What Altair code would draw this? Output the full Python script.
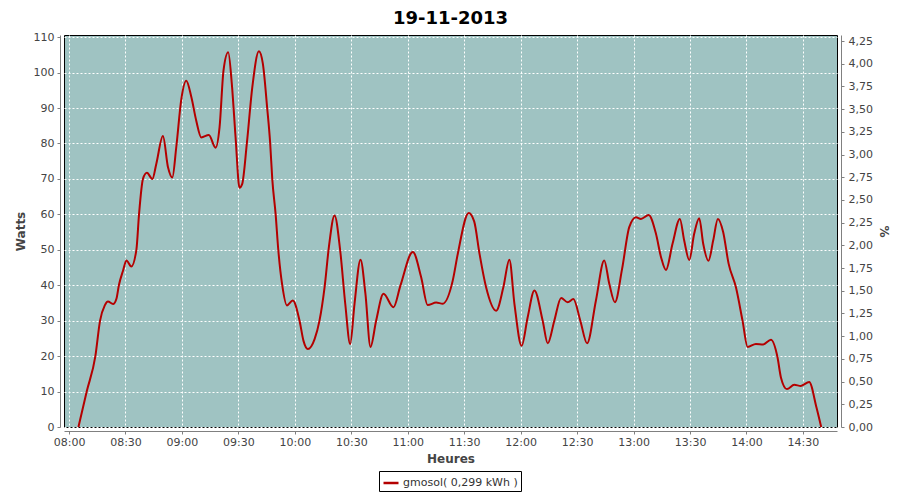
import altair as alt
import pandas as pd

# ---- data ----
chart_title = "19-11-2013"
series_name = "gmosol( 0,299 kWh )"

# minutes after 08:00
minutes = [5.0, 9.4, 14.0, 16.5, 19.0, 20.7, 23.4, 25.2, 26.5, 28.7, 30.5, 33.1, 35.8, 37.2,
           39.3, 41.4, 44.3, 46.4, 49.9, 52.6, 54.9, 57.0, 59.7, 62.3, 65.0, 67.6, 70.3,
           74.3, 77.9, 80.0, 82.1, 84.6, 86.5, 88.5, 90.6, 92.0, 94.5, 97.4, 100.9, 103.0,
           105.3, 106.9, 108.0, 109.8, 111.2, 113.3, 115.8, 118.9, 122.5, 124.6, 126.9,
           130.5, 133.1, 135.8, 138.1, 141.1, 144.1, 146.8, 149.4, 151.7, 154.9, 157.5,
           160.2, 163.2, 167.1, 172.4, 176.1, 182.7, 187.1, 190.6, 195.1, 198.6, 203.9,
           206.6, 212.4, 215.3, 218.1, 221.6, 227.0, 230.8, 234.0, 236.7, 240.5, 243.7,
           247.3, 251.7, 254.4, 257.9, 261.5, 265.0, 268.0, 271.7, 275.3, 280.0, 284.4,
           287.1, 290.1, 293.9, 297.7, 301.3, 303.9, 308.0, 311.9, 314.6, 317.2, 320.7,
           324.6, 326.9, 329.6, 332.2, 334.9, 337.0, 339.8, 342.3, 344.8, 347.6, 350.5,
           354.4, 357.9, 360.6, 365.0, 368.9, 373.0, 376.5, 378.3, 381.5, 385.4, 388.9,
           393.3, 397.2, 399.7]
watts = [0.0, 10.0, 20.0, 30.0, 34.3, 35.4, 34.7, 36.2, 40.0, 44.1, 47.0, 45.3, 50.0, 60.0,
         70.0, 71.7, 70.0, 74.3, 82.1, 73.3, 70.4, 79.0, 92.6, 97.7, 93.1, 86.5, 81.7,
         82.4, 78.8, 84.6, 100.6, 105.7, 96.9, 81.8, 67.5, 68.5, 80.0, 95.9, 106.0, 102.5,
         90.0, 80.0, 70.0, 60.0, 50.0, 40.0, 34.3, 35.7, 30.0, 24.3, 22.0,
         24.8, 30.0, 39.4, 50.8, 59.7, 49.8, 34.7, 23.4, 34.7, 47.2, 37.6,
         22.6, 30.0, 37.6, 33.8, 39.9, 49.4, 42.3, 34.4, 35.1, 34.8, 41.3,
         48.9, 60.4, 58.0, 49.0, 39.5, 32.8, 39.4, 47.2, 34.7, 22.9, 30.9,
         38.5, 30.0, 23.6, 30.0, 36.4, 35.2, 36.1, 30.0, 23.6, 35.7, 47.0,
         40.4, 35.2, 44.6, 56.4, 59.2, 58.7, 59.8, 54.5, 47.9, 44.3, 51.7,
         58.7, 52.6, 47.1, 54.5, 58.9, 51.7, 46.9, 52.6, 58.7, 55.0, 46.1,
         39.4, 30.0, 22.6, 23.4, 23.3, 24.6, 19.6, 14.0, 10.7, 11.9, 11.6,
         12.7, 5.5, 0.0]

x_tick_times = ["08:00", "08:30", "09:00", "09:30", "10:00", "10:30", "11:00", "11:30",
                "12:00", "12:30", "13:00", "13:30", "14:00", "14:30"]
watt_ticks = [0, 10, 20, 30, 40, 50, 60, 70, 80, 90, 100, 110]
pct_ticks = [0, 0.25, 0.5, 0.75, 1.0, 1.25, 1.5, 1.75, 2.0, 2.25, 2.5, 2.75, 3.0, 3.25,
             3.5, 3.75, 4.0, 4.25]
watt_max = 110.6
pct_max = 4.317

# ---- build table ----
base = pd.Timestamp("2013-11-19 08:00:00")
df = pd.DataFrame({
    "time": [(base + pd.Timedelta(minutes=m)).strftime("%Y-%m-%dT%H:%M:%S") for m in minutes],
    "watts": watts,
    "serie": series_name,
})


def dt(hhmm, seconds=0):
    h, m = hhmm.split(":")
    return alt.DateTime(year=2013, month=11, date=19, hours=int(h), minutes=int(m), seconds=seconds)


x_scale = alt.Scale(domain=[dt("07:57", 20), dt("14:48", 6)])
x_axis = alt.Axis(values=[dt(t) for t in x_tick_times], format="%H:%M", title="Heures",
                  offset=4, grid=True, gridColor="white", gridDash=[2, 2], gridOpacity=1,
                  titlePadding=6, labelPadding=2)

line = alt.Chart(df).mark_line(interpolate="monotone", strokeWidth=2).encode(
    x=alt.X("time:T", scale=x_scale, axis=x_axis),
    y=alt.Y("watts:Q", scale=alt.Scale(domain=[0, watt_max], nice=False, zero=True),
            axis=alt.Axis(values=watt_ticks, title="Watts", offset=4, grid=True,
                          gridColor="white", gridDash=[2, 2], gridOpacity=1,
                          titlePadding=6, labelPadding=3)),
    color=alt.Color("serie:N", scale=alt.Scale(range=["#b40000"]),
                    legend=alt.Legend(title=None, orient="none", legendX=315, legendY=436,
                                      strokeColor="black", fillColor="white", padding=3,
                                      symbolType="stroke", symbolSize=225,
                                      symbolStrokeWidth=2.5, labelFont="DejaVu Sans",
                                      labelFontSize=11, labelColor="#333333",
                                      labelOffset=3)),
)

pct_layer = alt.Chart(df).transform_calculate(
    pct=f"datum.watts / {watt_max / pct_max}"
).mark_line(opacity=0).encode(
    x=alt.X("time:T", scale=x_scale),
    y=alt.Y("pct:Q", scale=alt.Scale(domain=[0, pct_max], nice=False, zero=True),
            axis=alt.Axis(orient="right", values=pct_ticks, title="%", offset=4, grid=False,
                          labelExpr="replace(format(datum.value, '.2f'), '.', ',')",
                          titlePadding=4, labelPadding=4)),
)

chart = alt.layer(line, pct_layer).resolve_scale(y="independent").properties(
    width=773, height=392,
    background="white",
    autosize=alt.AutoSizeParams(type="none"),
    padding={"left": 56, "top": 27, "right": 55, "bottom": 65},
    title=alt.Title(chart_title, font="DejaVu Sans", fontSize=18, fontWeight="bold",
                    color="black", anchor="middle", offset=3),
).configure_view(
    fill="#9fc3c2", stroke="black", strokeWidth=1
).configure_axis(
    domainColor="#808080", tickColor="#808080", tickSize=3,
    labelFont="DejaVu Sans", labelFontSize=11, labelColor="#444444",
    titleFont="DejaVu Sans", titleFontSize=12, titleFontWeight="bold", titleColor="#444444",
)

chart.save("out.html", embed_options={"renderer": "svg", "actions": False})
